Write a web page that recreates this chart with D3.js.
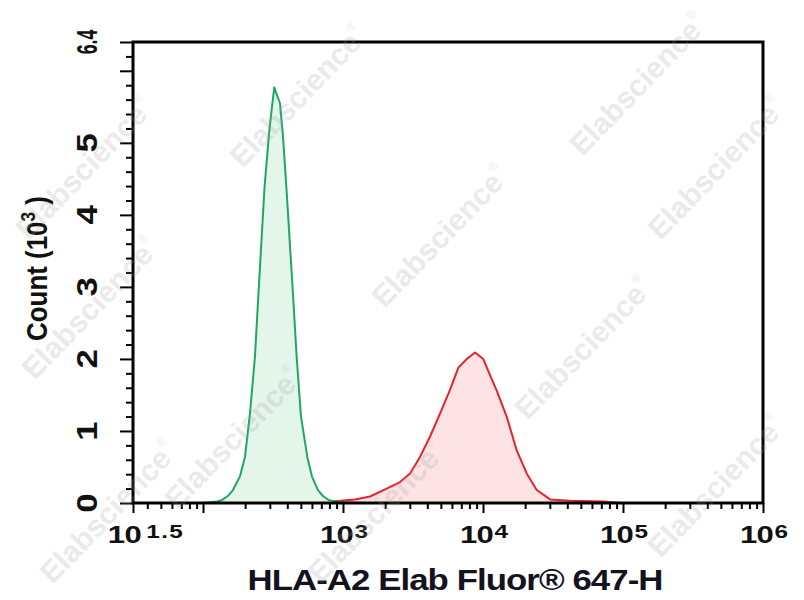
<!DOCTYPE html>
<html>
<head>
<meta charset="utf-8">
<script src="https://cdn.jsdelivr.net/npm/d3@7"></script>
<style>
  body { margin: 0; background: #fff; }
  svg { display: block; font-family: "Liberation Sans", Arial, sans-serif; font-weight: bold; }
</style>
</head>
<body>
<div id="chart"></div>
<script>
// histogram data: x = log10(fluorescence), y = count (x10^3)
const greenLogX = [2.00, 2.05, 2.10, 2.134, 2.179, 2.214, 2.264, 2.30, 2.336, 2.371, 2.396, 2.44, 2.475, 2.509,
                   2.529, 2.55, 2.571, 2.595, 2.638, 2.669, 2.70, 2.745, 2.778, 2.821, 2.86, 2.90, 2.95, 3.00, 3.10];
const greenCount = [0, 0.01, 0.02, 0.04, 0.10, 0.18, 0.37, 0.64, 1.25, 2.03, 2.9, 4.4, 5.2, 5.77,
                    5.66, 5.55, 5.1, 4.4, 3.05, 2.03, 1.2, 0.64, 0.37, 0.18, 0.09, 0.04, 0.02, 0.01, 0];

const redLogX = [2.50, 2.70, 2.836, 2.979, 3.086, 3.193, 3.312, 3.407, 3.479, 3.55, 3.621, 3.693, 3.764, 3.824,
                 3.884, 3.943, 4.002, 4.038, 4.098, 4.169, 4.241, 4.312, 4.384, 4.479, 4.621, 4.857, 4.979];
const redCount = [0, 0.01, 0.01, 0.03, 0.05, 0.09, 0.20, 0.29, 0.41, 0.64, 0.92, 1.24, 1.57, 1.88,
                  2.0, 2.09, 2.0, 1.83, 1.56, 1.2, 0.73, 0.41, 0.18, 0.05, 0.03, 0.02, 0];

// axis ticks
const xMajorExp = [1.5, 2, 3, 4, 5, 6];
const xLabelExp = ["1.5", "", "3", "4", "5", "6"];
const yMajor = [0, 1, 2, 3, 4, 5, 6, 6.4];
const yLabels = ["0", "1", "2", "3", "4", "5", "", "6.4"];

const xTitle = "HLA-A2 Elab Fluor\u00AE 647-H";
const watermark = "Elabscience";

const W = 804, H = 600;
const margin = { top: 42, right: 41, bottom: 97, left: 133 };

const svg = d3.select('#chart').append('svg')
  .attr('width', W)
  .attr('height', H);

const x = d3.scaleLog()
  .domain([Math.pow(10, 1.5), 1e6])
  .range([margin.left, W - margin.right]);

const y = d3.scaleLinear()
  .domain([0, 6.4])
  .range([H - margin.bottom, margin.top]);

// minor ticks
const xMinor = [];
for (let e = 1; e < 6; e++) {
  for (let m = 2; m <= 9; m++) {
    const v = m * Math.pow(10, e);
    if (v > x.domain()[0] && v < 1e6) xMinor.push(v);
  }
}
const yMinor = d3.range(0, 32).map(i => +(i * 0.2).toFixed(1)).filter(v => !yMajor.includes(v));

// histograms
const green = greenLogX.map((lx, i) => ({ lx, v: greenCount[i] }));
const red = redLogX.map((lx, i) => ({ lx, v: redCount[i] }));

svg.append('clipPath').attr('id', 'plot')
  .append('rect')
  .attr('x', margin.left).attr('y', margin.top)
  .attr('width', W - margin.left - margin.right)
  .attr('height', H - margin.top - margin.bottom);

const area = d3.area()
  .x(d => x(Math.pow(10, d.lx)))
  .y0(y(0))
  .y1(d => y(d.v));
const line = d3.line()
  .x(d => x(Math.pow(10, d.lx)))
  .y(d => y(d.v));

const plot = svg.append('g').attr('clip-path', 'url(#plot)');

[[red, '#fde3e3', '#e3242b'], [green, '#e4f5ea', '#1fa864']].forEach(([data, fill, stroke]) => {
  plot.append('path').datum(data)
    .attr('fill', fill)
    .attr('d', area);
  plot.append('path').datum(data)
    .attr('fill', 'none')
    .attr('stroke', stroke)
    .attr('stroke-width', 2)
    .attr('stroke-linejoin', 'round')
    .attr('d', line);
});

// axes
const xAxisMinor = d3.axisBottom(x).tickValues(xMinor).tickSize(6).tickSizeOuter(0).tickFormat('');
const xAxisMajor = d3.axisBottom(x).tickValues(xMajorExp.map(e => Math.pow(10, e))).tickSize(10).tickSizeOuter(0).tickFormat('');
const yAxisMinor = d3.axisLeft(y).tickValues(yMinor).tickSize(7).tickSizeOuter(0).tickFormat('');
const yAxisMajor = d3.axisLeft(y).tickValues(yMajor).tickSize(13).tickSizeOuter(0).tickFormat('');

[xAxisMinor, xAxisMajor].forEach(ax => {
  svg.append('g')
    .attr('transform', `translate(0,${y(0)})`)
    .call(ax)
    .call(g => g.select('.domain').remove())
    .call(g => g.selectAll('.tick line').attr('stroke', '#000').attr('stroke-width', 2));
});
[yAxisMinor, yAxisMajor].forEach(ax => {
  svg.append('g')
    .attr('transform', `translate(${margin.left},0)`)
    .call(ax)
    .call(g => g.select('.domain').remove())
    .call(g => g.selectAll('.tick line').attr('stroke', '#000').attr('stroke-width', 2));
});

// frame
svg.append('rect')
  .attr('x', margin.left)
  .attr('y', margin.top)
  .attr('width', W - margin.left - margin.right)
  .attr('height', H - margin.top - margin.bottom)
  .attr('fill', 'none')
  .attr('stroke', '#000')
  .attr('stroke-width', 3);

// x tick labels
xMajorExp.forEach((e, i) => {
  if (!xLabelExp[i]) return;
  const first = i === 0;
  const t = svg.append('text')
    .attr('transform', `translate(${x(Math.pow(10, e)) + (first ? 13 : 1)},543) scale(1.35,1)`)
    .attr('text-anchor', 'middle')
    .attr('font-size', 23)
    .attr('fill', '#111');
  t.append('tspan').attr('letter-spacing', -0.5).text('10');
  t.append('tspan')
    .attr('font-size', 18)
    .attr('dy', -5)
    .attr('dx', first ? 4 : 1)
    .attr('letter-spacing', first ? 1 : 0)
    .text(xLabelExp[i]);
});

// y tick labels
yMajor.forEach((v, i) => {
  if (!yLabels[i]) return;
  const squeeze = yLabels[i].length > 1 ? 0.74 : 1.45;
  svg.append('text')
    .attr('transform', `translate(97,${y(v)}) rotate(-90) scale(${squeeze},1.26)`)
    .attr('text-anchor', 'middle')
    .attr('font-size', 24)
    .attr('fill', '#111')
    .text(yLabels[i]);
});

// axis titles
svg.append('text')
  .attr('transform', 'translate(455,590) scale(1.16,1)')
  .attr('text-anchor', 'middle')
  .attr('font-size', 30)
  .attr('letter-spacing', -0.8)
  .attr('fill', '#15121f')
  .text(xTitle);

const yt = svg.append('text')
  .attr('transform', `translate(46.5,${(y(0) + y(6.4)) / 2 - 4}) rotate(-90) scale(1.08,1.26)`)
  .attr('text-anchor', 'middle')
  .attr('font-size', 24)
  .attr('fill', '#111');
yt.append('tspan').text('Count (10');
yt.append('tspan').attr('font-size', 16).attr('dy', -9).text('3');
yt.append('tspan').attr('dy', 9).text(' )');

// watermark, kept inside the page
const wmCenters = [[300, 98], [640, 50], [-50, 170], [442, 238], [790, 170], [92, 310],
                   [585, 350], [235, 440], [740, 488], [378, 585], [110, 625]];
const wmHalf = 86;
wmCenters.forEach(([cx, cy]) => {
  const px = Math.max(wmHalf, Math.min(W - wmHalf, cx));
  const py = Math.max(wmHalf, Math.min(H - wmHalf, cy));
  const t = svg.append('text')
    .attr('transform', `translate(${px},${py}) rotate(-46)`)
    .attr('text-anchor', 'middle')
    .attr('dominant-baseline', 'middle')
    .attr('font-size', 30)
    .attr('fill', '#9a9a9a')
    .attr('opacity', 0.2);
  t.append('tspan').text(watermark);
  t.append('tspan').attr('font-size', 12).attr('dy', -12).attr('font-weight', 'normal').text('\u00AE');
});
</script>
</body>
</html>
